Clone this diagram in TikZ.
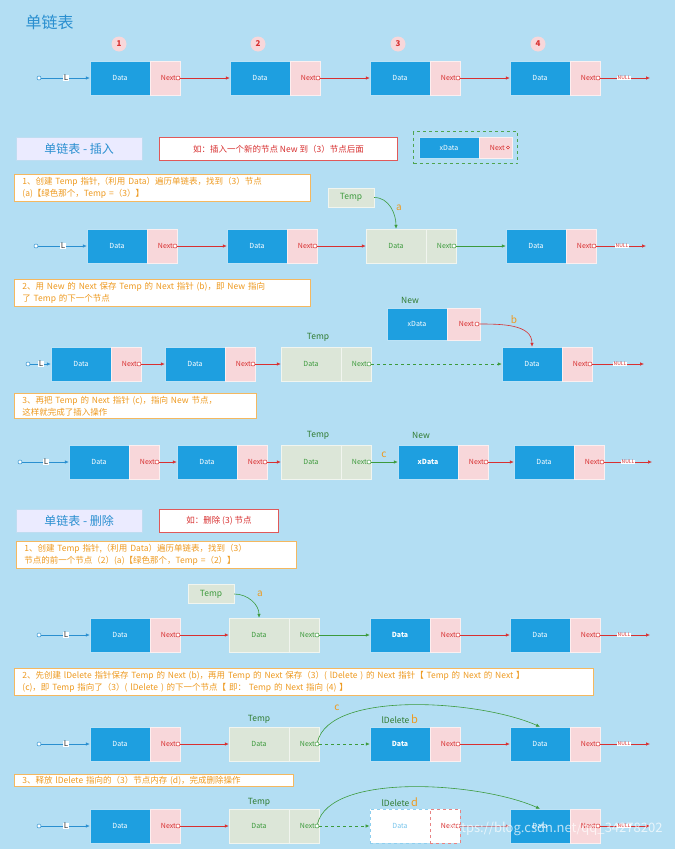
\documentclass[tikz,border=0pt]{standalone}
\usepackage{fontspec}
\setmainfont{Noto Sans CJK SC}
\usetikzlibrary{arrows.meta}
\definecolor{bg}{HTML}{B3DEF3}
\definecolor{dblue}{HTML}{1E9FE0}
\definecolor{npink}{HTML}{F8D7DA}
\definecolor{gbox}{HTML}{DCE6D8}
\definecolor{rline}{HTML}{D83030}
\definecolor{gline}{HTML}{3C9A3C}
\definecolor{otext}{HTML}{EE9A20}
\definecolor{oborder}{HTML}{F4B860}
\definecolor{tblue}{HTML}{2A8FD0}
\newcommand\LN[7]{%
\node[dbox,#4] (#1d) at ({#2+30},#3) {#6};
\node[nbox,#5] (#1n) at ({#2+75},#3) {};
\node[font=\fontsize{7}{7}\selectfont,text=#7,anchor=east,inner sep=0] (#1t) at ({#2+86},#3) {Next};
\node[dot,draw=#7] (#1c) at ({#2+88},#3) {};}
\tikzset{
 dbox/.style={minimum width=60pt,minimum height=34pt,inner sep=0,font=\fontsize{7}{7}\selectfont,text=white,fill=dblue,draw=white!70!dblue,line width=0.4pt},
 gdat/.style={fill=gbox,text=gline,draw=white!60!gbox},
 nbox/.style={minimum width=30pt,minimum height=34pt,inner sep=0,fill=npink,draw=white!60!npink,line width=0.4pt},
 gnxt/.style={fill=gbox,draw=white!60!gbox},
 dot/.style={circle,fill=white,minimum size=4pt,inner sep=0,line width=0.5pt},
 rarr/.style={rline,line width=0.6pt,-{Latex[length=4pt,width=3.5pt]}},
 garr/.style={gline,line width=0.6pt,-{Latex[length=4pt,width=3.5pt]}},
 barr/.style={tblue,line width=0.6pt,-{Latex[length=4pt,width=3.5pt]}},
 lbl/.style={fill=white,inner sep=0.5pt,font=\fontsize{8}{8}\selectfont,text=gray!40!black},
 nul/.style={fill=white,inner sep=0.3pt,font=\fontsize{5}{5}\selectfont,text=rline},
 obox/.style={draw=oborder,fill=white,line width=0.8pt,align=left,text=otext,font=\fontsize{8.5}{11.5}\selectfont,anchor=north west,inner xsep=8pt,inner ysep=3pt},
 tbox/.style={fill=blue!8!white,draw=white!70!tblue,text=tblue,font=\fontsize{12}{12}\selectfont,minimum width=126pt,minimum height=23pt,anchor=north west},
 rbox/.style={fill=white,draw=rline!80,line width=0.8pt,text=rline,font=\fontsize{8.5}{8.5}\selectfont,minimum height=23pt,anchor=north west},
 num/.style={circle,fill=npink,text=rline,font=\bfseries\fontsize{8}{8}\selectfont,minimum size=15pt,inner sep=0},
 tmp/.style={fill=gbox,draw=white!60!gbox,text=gline,font=\fontsize{8.5}{8.5}\selectfont,minimum width=46pt,minimum height=19pt,inner sep=0},
 glab/.style={text=gline!80!black,font=\fontsize{8.5}{8.5}\selectfont},
 olab/.style={text=otext,font=\fontsize{10}{10}\selectfont},
}
\begin{document}
\begin{tikzpicture}[x=1pt,y=-1pt]
\useasboundingbox[fill=bg] (0,0) rectangle (675,849);
\node[text=tblue,font=\fontsize{16}{16}\selectfont,anchor=west] (title) at (22,22) {单链表};
% row 1
\foreach \i/\x in {1/119,2/258,3/398,4/538}{\node[num] (n\i) at (\x,44) {\i};}
\LN{a1}{90}{78}{}{}{Data}{rline}
\LN{a2}{230}{78}{}{}{Data}{rline}
\LN{a3}{370}{78}{}{}{Data}{rline}
\LN{a4}{510}{78}{}{}{Data}{rline}
\node[dot,draw=tblue] (as) at (39,78) {};
\node[lbl] (aL) at (66,78) {L};
\draw[tblue,line width=0.6pt] (as)--(aL); \draw[barr] (aL)--(a1d);
\draw[rarr] (a1c)--(a2d); \draw[rarr] (a2c)--(a3d); \draw[rarr] (a3c)--(a4d);
\node[nul] (anul) at (624,78) {NULL}; \coordinate (ae) at (650,78);
\draw[rline,line width=0.6pt] (a4c)--(anul); \draw[rarr] (anul)--(ae);
% insert header
\node[tbox] (ins) at (16,137) {单链表 - 插入};
\node[rbox,minimum width=238pt] (insr) at (159,137) {如：插入一个新的节点 New 到（3）节点后面};
\node[draw=gline!90!white,dashed,line width=1.2pt,minimum width=104pt,minimum height=32pt,anchor=north west] (gd) at (413,131) {};
\node[dbox,minimum height=21pt] (xd0) at (449,147.5) {xData};
\node[nbox,minimum height=21pt,minimum width=33pt] (xn0) at (495.5,147.5) {};
\node[font=\fontsize{7}{7}\selectfont,text=rline,anchor=east,inner sep=0] (xt0) at (505,147.5) {Next};
\node[dot,draw=rline,minimum size=3pt] (xc0) at (508,147.5) {};
% step 1
\node[obox,text width=280pt] (s1) at (14,174) {1、创建 Temp 指针,（利用 Data）遍历单链表，找到（3）节点\\(a)【绿色那个，Temp =（3）】};
\node[tmp] (t1) at (351,197.5) {Temp};
\LN{b1}{87}{246}{}{}{Data}{rline}
\LN{b2}{227}{246}{}{}{Data}{rline}
\LN{b3}{366}{246}{gdat}{gnxt}{Data}{gline}
\LN{b4}{506}{246}{}{}{Data}{rline}
\node[dot,draw=tblue] (bs) at (36,246) {};
\node[lbl] (bL) at (63,246) {L};
\draw[tblue,line width=0.6pt] (bs)--(bL); \draw[barr] (bL)--(b1d);
\draw[rarr] (b1c)--(b2d); \draw[rarr] (b2c)--(b3d); \draw[garr] (b3c)--(b4d);
\node[nul] (bnul) at (622,246) {NULL}; \coordinate (be) at (646,246);
\draw[rline,line width=0.6pt] (b4c)--(bnul); \draw[rarr] (bnul)--(be);
\draw[garr] (t1.east) to[out=0,in=90] (b3d.north);
\node[olab] (la) at (399,208) {a};
% step 2
\node[obox,text width=280pt] (s2) at (14,279) {2、用 New 的 Next 保存 Temp 的 Next 指针 (b)，即 New 指向\\了 Temp 的下一个节点};
\node[glab] (newl) at (410,300) {New};
\node[dbox,minimum height=32pt] (xd1) at (417,324) {xData};
\node[nbox,minimum height=32pt,minimum width=33pt] (xn1) at (463.5,324) {};
\node[font=\fontsize{7}{7}\selectfont,text=rline,anchor=east,inner sep=0] (xt1) at (474,324) {Next};
\node[dot,draw=rline] (xc1) at (477,324) {};
\node[glab] (tl2) at (318,337) {Temp};
\LN{c1}{51}{364}{}{}{Data}{rline}
\LN{c2}{165}{364}{}{}{Data}{rline}
\LN{c3}{281}{364}{gdat}{gnxt}{Data}{gline}
\LN{c4}{502}{364}{}{}{Data}{rline}
\node[dot,draw=tblue] (cs) at (28,364) {};
\node[lbl] (cL) at (41,364) {L};
\draw[tblue,line width=0.6pt] (cs)--(cL); \draw[barr] (cL)--(c1d);
\draw[rarr] (c1c)--(c2d); \draw[rarr] (c2c)--(c3d); \draw[garr,dashed] (c3c)--(c4d);
\node[nul] (cnul) at (620,364) {NULL}; \coordinate (ce) at (644,364);
\draw[rline,line width=0.6pt] (c4c)--(cnul); \draw[rarr] (cnul)--(ce);
\draw[rarr] (xc1) to[out=0,in=90] (c4d.north);
\node[olab] (lb) at (514,320) {b};
% step 3
\node[obox,text width=226pt] (s3) at (14,393) {3、再把 Temp 的 Next 指针 (c)，指向 New 节点，\\这样就完成了插入操作};
\node[glab] (tl3) at (318,435) {Temp};
\node[glab] (nl3) at (421,435) {New};
\LN{d1}{69}{462}{}{}{Data}{rline}
\LN{d2}{177}{462}{}{}{Data}{rline}
\LN{d3}{281}{462}{gdat}{gnxt}{Data}{gline}
\LN{d4}{398}{462}{}{}{\textbf{xData}}{rline}
\LN{d5}{514}{462}{}{}{Data}{rline}
\node[dot,draw=tblue] (ds) at (20,462) {};
\node[lbl] (dL) at (46,462) {L};
\draw[tblue,line width=0.6pt] (ds)--(dL); \draw[barr] (dL)--(d1d);
\draw[rarr] (d1c)--(d2d); \draw[rarr] (d2c)--(d3d); \draw[garr] (d3c)--(d4d); \draw[rarr] (d4c)--(d5d);
\node[nul] (dnul) at (628,462) {NULL}; \coordinate (de) at (652,462);
\draw[rline,line width=0.6pt] (d5c)--(dnul); \draw[rarr] (dnul)--(de);
\node[olab] (lc) at (384,455) {c};
% delete header
\node[tbox] (del) at (16,509) {单链表 - 删除};
\node[rbox,minimum width=119pt] (delr) at (159,509) {如：删除 (3) 节点};
\node[obox,text width=264pt] (s4) at (16,541) {1、创建 Temp 指针,（利用 Data）遍历单链表，找到（3）\\节点的前一个节点（2）(a)【绿色那个，Temp =（2）】};
\node[tmp] (t2) at (211,594) {Temp};
\LN{e1}{90}{635}{}{}{Data}{rline}
\LN{e2}{229}{635}{gdat}{gnxt}{Data}{gline}
\LN{e3}{370}{635}{}{}{\textbf{Data}}{rline}
\LN{e4}{510}{635}{}{}{Data}{rline}
\node[dot,draw=tblue] (es) at (39,635) {};
\node[lbl] (eL) at (66,635) {L};
\draw[tblue,line width=0.6pt] (es)--(eL); \draw[barr] (eL)--(e1d);
\draw[rarr] (e1c)--(e2d); \draw[garr] (e2c)--(e3d); \draw[rarr] (e3c)--(e4d);
\node[nul] (enul) at (624,635) {NULL}; \coordinate (ee) at (650,635);
\draw[rline,line width=0.6pt] (e4c)--(enul); \draw[rarr] (enul)--(ee);
\draw[garr] (t2.east) to[out=0,in=90] (e2d.north);
\node[olab] (la2) at (260,594) {a};
% delete step 2
\node[obox,text width=563pt] (s5) at (14,668) {2、先创建 lDelete 指针保存 Temp 的 Next (b)，再用 Temp 的 Next 保存（3）( lDelete ) 的 Next 指针【 Temp 的 Next 的 Next 】\\(c)，即 Temp 指向了（3）( lDelete ) 的下一个节点【 即： Temp 的 Next 指向 (4) 】};
\node[glab] (tl5) at (259,719) {Temp};
\node[glab,anchor=west] (il5) at (378,719) {lDelete \textcolor{otext}{\fontsize{11}{11}\selectfont b}};
\LN{f1}{90}{744}{}{}{Data}{rline}
\LN{f2}{229}{744}{gdat}{gnxt}{Data}{gline}
\LN{f3}{370}{744}{}{}{\textbf{Data}}{rline}
\LN{f4}{510}{744}{}{}{Data}{rline}
\node[dot,draw=tblue] (fs) at (39,744) {};
\node[lbl] (fL) at (66,744) {L};
\draw[tblue,line width=0.6pt] (fs)--(fL); \draw[barr] (fL)--(f1d);
\draw[rarr] (f1c)--(f2d); \draw[garr,dashed] (f2c)--(f3d); \draw[rarr] (f3c)--(f4d);
\node[nul] (fnul) at (624,744) {NULL}; \coordinate (fe) at (650,744);
\draw[rline,line width=0.6pt] (f4c)--(fnul); \draw[rarr] (fnul)--(fe);
\draw[garr] (f2c) .. controls (330,690) and (480,700) .. (f4d.north);
\node[olab] (lc2) at (337,708) {c};
% delete step 3
\node[obox,text width=263pt,inner ysep=1.5pt] (s6) at (14,774) {3、释放 lDelete 指向的（3）节点内存 (d)，完成删除操作};
\node[glab] (tl6) at (259,802) {Temp};
\node[glab,anchor=west] (il6) at (378,802) {lDelete \textcolor{otext}{\fontsize{11}{11}\selectfont d}};
\LN{g1}{90}{826}{}{}{Data}{rline}
\LN{g2}{229}{826}{gdat}{gnxt}{Data}{gline}
\LN{g3}{370}{826}{fill=white,text=dblue!60,draw=dblue!50,dashed,line width=1pt}{fill=white,draw=rline!60,dashed,line width=0.8pt}{Data}{rline}
\LN{g4}{510}{826}{}{}{Data}{rline}
\node[dot,draw=tblue] (gs) at (39,826) {};
\node[lbl] (gL) at (66,826) {L};
\draw[tblue,line width=0.6pt] (gs)--(gL); \draw[barr] (gL)--(g1d);
\draw[rarr] (g1c)--(g2d); \draw[garr,dashed] (g2c)--(g3d); \draw[rarr,opacity=0.5] (g3c)--(g4d);
\node[nul] (gnul) at (624,826) {NULL}; \coordinate (ge) at (650,826);
\draw[rline,line width=0.6pt] (g4c)--(gnul); \draw[rarr] (gnul)--(ge);
\draw[garr] (g2c) .. controls (330,772) and (480,782) .. (g4d.north);
\node[text=white,opacity=0.7,font=\fontsize{13}{13}\selectfont,anchor=east] (wm) at (666,829) {https://blog.csdn.net/qq\_34278202};
\end{tikzpicture}
\end{document}
